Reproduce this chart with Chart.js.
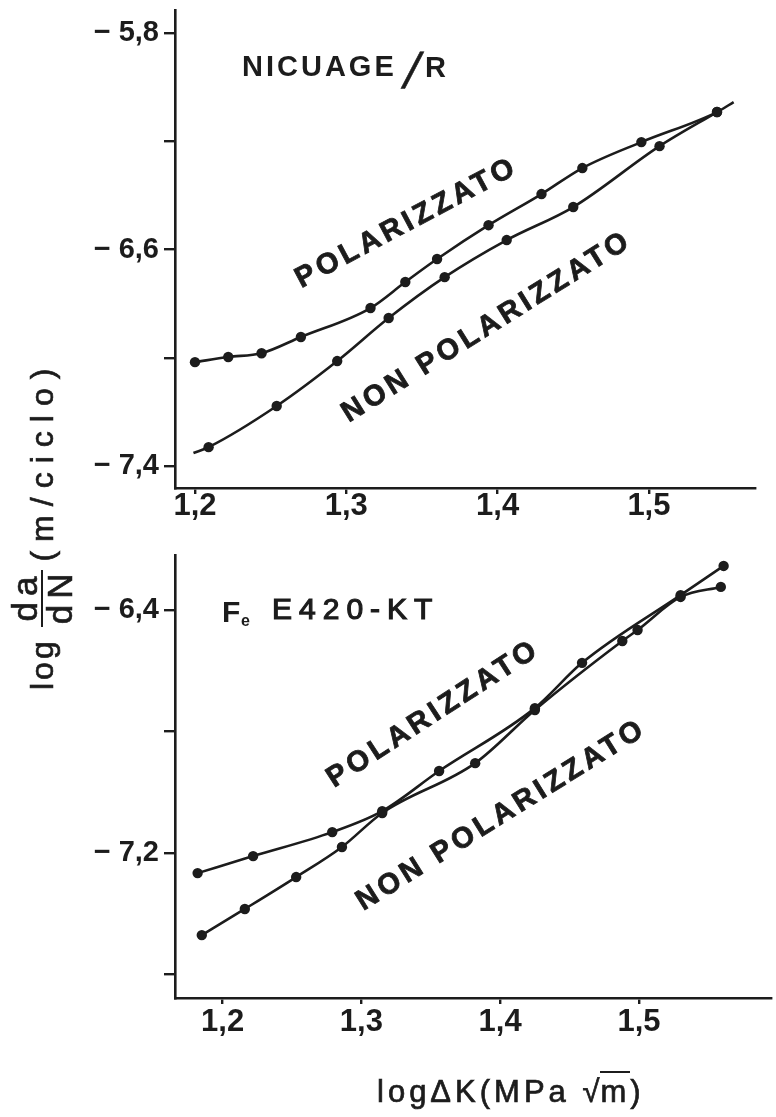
<!DOCTYPE html>
<html>
<head>
<meta charset="utf-8">
<script src="https://cdn.jsdelivr.net/npm/chart.js@4.4.1/dist/chart.umd.min.js"></script>
<style>
  html, body { margin: 0; padding: 0; background: #ffffff; }
  #page { position: relative; width: 776px; height: 1117px; overflow: hidden; background: #ffffff; }
  #topWrap { position: absolute; left: 0; top: 0; width: 776px; height: 540px; }
  #botWrap { position: absolute; left: 0; top: 540px; width: 776px; height: 577px; }
  canvas { display: block; }
  .axisTitle { position: absolute; color: #1c1c1c; font-family: "Liberation Sans", Arial, sans-serif;
               white-space: nowrap; -webkit-text-stroke: 0.7px #1c1c1c; }
  #ylab { left: 42px; top: 658px; height: 64px; font-size: 32px;
          transform-origin: 0 50%; transform: rotate(-90deg);
          display: flex; align-items: center; }
  #ylab .log { letter-spacing: 3px; }
  #ylab .unit { letter-spacing: 9px; }
  #ylab .frac { display: inline-flex; flex-direction: column; align-items: center; font-size: 35px;
                line-height: 0.9; margin: 0 6px 0 8px; letter-spacing: 6px; }
  #ylab .frac .num { border-bottom: 2.6px solid #1c1c1c; padding: 0 0 1px 6px; }
  #ylab .frac .den { padding: 1px 0 0 6px; }
  #xlab { left: 377px; top: 1076px; font-size: 31px; letter-spacing: 4px; line-height: 1; }
  #xlab .ov { border-top: 2.6px solid #1c1c1c; padding-top: 1px; margin-left: -3px; }
</style>
</head>
<body>
<div id="page">
  <div id="topWrap"><canvas id="topChart" width="776" height="540"></canvas></div>
  <div id="botWrap"><canvas id="botChart" width="776" height="577"></canvas></div>
  <div id="ylab" class="axisTitle"><span class="log">log</span><span class="frac"><span class="num">da</span><span class="den">dN</span></span><span class="unit">(m/ciclo)</span></div>
  <div id="xlab" class="axisTitle">logΔK(MPa <span>√<span class="ov">m</span></span>)</div>
</div>
<script>
// ---- NiCuAge/R panel: log ΔK vs log da/dN ----
const nicuagePolX = [1.200, 1.222, 1.244, 1.270, 1.316, 1.339, 1.360, 1.394, 1.429, 1.456, 1.495, 1.545, 1.556];
const nicuagePolY = [-7.016, -6.997, -6.983, -6.923, -6.816, -6.720, -6.635, -6.510, -6.395, -6.299, -6.203, -6.092, -6.055];
const nicuageNonX = [1.199, 1.209, 1.254, 1.294, 1.328, 1.365, 1.406, 1.450, 1.507, 1.545];
const nicuageNonY = [-7.352, -7.330, -7.178, -7.012, -6.853, -6.702, -6.565, -6.443, -6.218, -6.092];

// ---- Fe E420-KT panel ----
const fePolX = [1.182, 1.222, 1.279, 1.315, 1.356, 1.425, 1.459, 1.530, 1.561];
const fePolY = [-7.266, -7.210, -7.131, -7.062, -6.930, -6.723, -6.574, -6.351, -6.255];
const feNonX = [1.185, 1.216, 1.253, 1.286, 1.315, 1.382, 1.425, 1.488, 1.499, 1.530, 1.559];
const feNonY = [-7.470, -7.384, -7.279, -7.180, -7.068, -6.904, -6.729, -6.502, -6.466, -6.357, -6.324];

// ---- axis ticks ----
const xTickValues = [1.2, 1.3, 1.4, 1.5];
const yTicksTop = [-7.4, -7.0, -6.6, -6.2, -5.8];
const yLabelledTop = [-7.4, -6.6, -5.8];
const yTicksBottom = [-7.6, -7.2, -6.8, -6.4];
const yLabelledBottom = [-7.2, -6.4];

// ---- curve labels ----
const seriesPol = 'POLARIZZATO';
const seriesNon = 'NON POLARIZZATO';

const INK = '#1c1c1c';
const SANS = '"Liberation Sans", Arial, sans-serif';
const NARROW = '"Liberation Sans Narrow", "Liberation Sans", Arial, sans-serif';

function toPoints(xs, ys) { return xs.map((x, i) => ({ x: x, y: ys[i] })); }
function decimal(v) { return Math.abs(v).toFixed(1).replace('.', ','); }

// Draws the rotated curve names (anchored in data space) and the panel headings.
const chartText = {
  id: 'chartText',
  afterDatasetsDraw(chart, args, opts) {
    const ctx = chart.ctx;
    const sx = chart.scales.x, sy = chart.scales.y;
    (opts.curveLabels || []).forEach(l => {
      ctx.save();
      ctx.font = l.font;
      ctx.letterSpacing = l.spacing || '0px';
      ctx.fillStyle = INK; ctx.strokeStyle = INK; ctx.lineWidth = 0.8;
      ctx.translate(sx.getPixelForValue(l.x), sy.getPixelForValue(l.y));
      ctx.rotate(-l.angle * Math.PI / 180);
      ctx.textAlign = 'center'; ctx.textBaseline = 'middle';
      ctx.fillText(l.text, 0, 0);
      ctx.strokeText(l.text, 0, 0);
      ctx.restore();
    });
    (opts.heading || []).forEach(h => {
      ctx.save();
      ctx.font = h.font;
      ctx.letterSpacing = h.spacing || '0px';
      ctx.fillStyle = INK; ctx.strokeStyle = INK; ctx.lineWidth = h.stroke || 0;
      ctx.textAlign = 'left'; ctx.textBaseline = 'alphabetic';
      ctx.translate(h.left, h.base);
      if (h.skew) ctx.transform(1, 0, -h.skew, 1, 0, 0);
      ctx.fillText(h.text, 0, 0);
      if (h.stroke) ctx.strokeText(h.text, 0, 0);
      ctx.restore();
    });
  }
};

function lineSet(label, pts, hidden) {
  return {
    label: label,
    data: pts,
    showLine: true,
    borderColor: INK,
    backgroundColor: INK,
    borderWidth: 2.6,
    cubicInterpolationMode: 'monotone',
    pointRadius: ctx => hidden.includes(ctx.dataIndex) ? 0 : 5.2,
    pointBorderWidth: 0,
    pointHoverRadius: 0
  };
}

function panel(canvasId, cfg) {
  return new Chart(document.getElementById(canvasId), {
    type: 'scatter',
    data: { datasets: cfg.datasets },
    options: {
      responsive: false,
      animation: false,
      devicePixelRatio: 1,
      events: [],
      layout: { padding: cfg.padding },
      plugins: {
        legend: { display: false },
        tooltip: { enabled: false },
        chartText: { curveLabels: cfg.curveLabels, heading: cfg.heading }
      },
      scales: {
        x: {
          type: 'linear',
          min: cfg.xMin, max: cfg.xMax,
          afterBuildTicks: s => { s.ticks = xTickValues.map(v => ({ value: v })); },
          afterFit: s => { s.height = cfg.xHeight; s.paddingLeft = 0; s.paddingRight = 0; },
          border: { display: true, color: INK, width: 2.6 },
          grid: { drawOnChartArea: false, drawTicks: true, tickLength: 6, color: INK, lineWidth: 2.4 },
          ticks: {
            color: INK, padding: cfg.xTickPad, maxRotation: 0, autoSkip: false,
            font: { family: NARROW, size: 31, weight: 'bold' },
            callback: v => v.toFixed(1).replace('.', ',')
          }
        },
        y: {
          type: 'linear',
          min: cfg.yMin, max: cfg.yMax,
          afterBuildTicks: s => { s.ticks = cfg.yTicks.map(v => ({ value: v })); },
          afterFit: s => { s.width = 175; s.paddingTop = 0; s.paddingBottom = 0; },
          border: { display: true, color: INK, width: 2.6 },
          grid: { drawOnChartArea: false, drawTicks: true, tickLength: 11, color: INK, lineWidth: 2.4 },
          ticks: {
            color: INK, padding: 5, autoSkip: false,
            font: { family: SANS, size: 29, weight: 'bold' },
            callback: v => cfg.yLabelled.some(t => Math.abs(t - v) < 1e-6) ? '\u2212 ' + decimal(v) : ''
          }
        }
      }
    },
    plugins: [chartText]
  });
}

// NiCuAge/R
panel('topChart', {
  padding: { top: 10, right: 21, left: 0, bottom: 0 },
  xMin: 1.1868, xMax: 1.5701, xHeight: 52, xTickPad: -6,
  yMin: -7.481, yMax: -5.715,
  yTicks: yTicksTop, yLabelled: yLabelledTop,
  datasets: [
    lineSet(seriesPol, toPoints(nicuagePolX, nicuagePolY), [nicuagePolX.length - 1]),
    lineSet(seriesNon, toPoints(nicuageNonX, nicuageNonY), [0])
  ],
  curveLabels: [
    { text: seriesPol, x: 1.340, y: -6.502, angle: 28, font: 'bold 29px ' + SANS, spacing: '4px' },
    { text: seriesNon, x: 1.393, y: -6.886, angle: 32, font: 'bold 29px ' + SANS, spacing: '4px' }
  ],
  heading: [
    { text: 'NICUAGE', left: 242, base: 76, font: 'bold 29px ' + SANS, spacing: '3px' },
    { text: '/', left: 401, base: 88, font: '50px ' + SANS, skew: 0.25, stroke: 0.6 },
    { text: 'R', left: 425, base: 77, font: 'bold 29px ' + SANS }
  ]
});

// Fe E420-KT
panel('botChart', {
  padding: { top: 15, right: 0, left: 0, bottom: 0 },
  xMin: 1.1657, xMax: 1.595, xHeight: 119, xTickPad: 0,
  yMin: -7.677, yMax: -6.219,
  yTicks: yTicksBottom, yLabelled: yLabelledBottom,
  datasets: [
    lineSet(seriesPol, toPoints(fePolX, fePolY), []),
    lineSet(seriesNon, toPoints(feNonX, feNonY), [])
  ],
  curveLabels: [
    { text: seriesPol, x: 1.352, y: -6.742, angle: 33, font: 'bold 29px ' + SANS, spacing: '4px' },
    { text: seriesNon, x: 1.401, y: -7.075, angle: 32, font: 'bold 29px ' + SANS, spacing: '4px' }
  ],
  heading: [
    { text: 'F', left: 222, base: 82, font: 'bold 30px ' + SANS },
    { text: 'e', left: 241, base: 86, font: 'bold 16px ' + SANS },
    { text: 'E420-KT', left: 272, base: 79, font: '30px ' + SANS, spacing: '7px', stroke: 1.2 }
  ]
});
</script>
</body>
</html>
